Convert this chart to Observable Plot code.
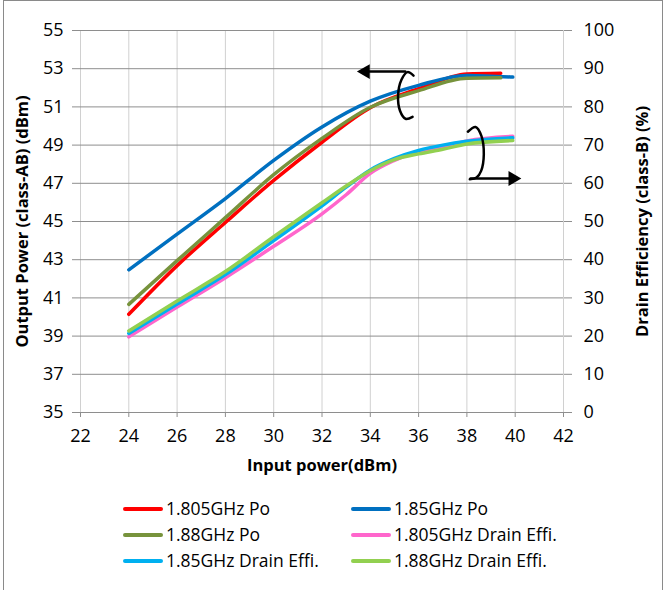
<!DOCTYPE html>
<html><head><meta charset="utf-8">
<script src="https://cdn.jsdelivr.net/npm/d3@7"></script>
<script src="https://cdn.jsdelivr.net/npm/@observablehq/plot@0.6"></script>
<style>
body{margin:0;background:#fff;}
#wrap{position:relative;width:666px;height:590px;overflow:hidden;font-family:"Open Sans",sans-serif;background:#fff}
#frame{position:absolute;left:3px;top:0;width:660px;height:600px;border:1px solid #8a8a8a;box-sizing:border-box;pointer-events:none}
#chart{position:absolute;left:0;top:0}
.leg{position:absolute;font-size:17.5px;color:#000;line-height:22px;white-space:nowrap}
.sw{display:inline-block;width:40px;height:4px;border-radius:2px;vertical-align:middle;margin-right:3px;position:relative;top:-1px}
</style></head><body>
<div id="wrap"><div id="chart"></div><div id="legend"></div><div id="frame"></div></div>
<script>
// Input power (dBm) for output-power series
const redPoX   = [24, 26, 28, 30, 32, 34, 36, 38, 39.4];
const redPoY   = [40.14, 42.69, 44.95, 47.15, 49.15, 50.96, 51.95, 52.72, 52.76];
const bluePoX  = [24, 26, 28, 30, 32, 34, 36, 38, 39.9];
const bluePoY  = [42.47, 44.34, 46.2, 48.2, 49.95, 51.3, 52.13, 52.65, 52.56];
const greenPoX = [24, 26, 28, 30, 32, 34, 36, 38, 39.4];
const greenPoY = [40.66, 42.95, 45.2, 47.45, 49.35, 50.98, 51.85, 52.5, 52.52];
// Drain efficiency (%)
const effX      = [24, 26, 28, 30, 32, 33, 34, 35, 36, 37, 38, 39.9];
const pinkEff   = [19.8, 27.6, 35.3, 43.5, 52.0, 57.0, 62.6, 66.0, 68.4, 69.5, 71.1, 72.3];
const cyanEff   = [20.7, 28.4, 36.1, 45.0, 54.1, 59.0, 63.5, 66.5, 68.6, 70.0, 71.0, 71.9];
const lgreenEff = [21.35, 29.2, 36.9, 46.0, 54.9, 59.3, 63.3, 66.2, 67.7, 68.9, 70.3, 71.2];

const seriesNames = ["1.805GHz Po","1.85GHz Po","1.88GHz Po","1.805GHz Drain Effi.","1.85GHz Drain Effi.","1.88GHz Drain Effi."];
const seriesColors = ["#ff0000","#0070c0","#77933c","#ff66cc","#00b0f0","#92d050"];

const xTicks = [22,24,26,28,30,32,34,36,38,40,42];
const leftTicks = [35,37,39,41,43,45,47,49,51,53,55];
const rightTickLabels = [0,10,20,30,40,50,60,70,80,90,100];

// annotation shapes (in chart data units: input dBm, output dBm)
const leftBracket = [[35.79,52.64],[35.54,52.82],[35.29,52.42],[35.15,51.58],[35.23,50.80],[35.46,50.38],[35.75,50.48]];
const leftArrow = [[35.45,52.85],[33.9,52.85]];
const leftHead = [[33.8,52.85]];
const rightBracket = [[38.04,49.70],[38.36,49.95],[38.60,49.48],[38.70,48.52],[38.59,47.65],[38.40,47.30],[38.12,47.21]];
const rightArrow = [[38.15,47.25],[39.8,47.25]];
const rightHead = [[39.9,47.25]];

const effToDbm = e => 35 + e / 5;
const rows = [];
const addPo = (xs, ys, i) => xs.forEach((x, j) => rows.push({s: seriesNames[i], x, y: ys[j]}));
const addEff = (ys, i) => effX.forEach((x, j) => rows.push({s: seriesNames[i], x, y: effToDbm(ys[j])}));
addPo(redPoX, redPoY, 0); addPo(bluePoX, bluePoY, 1); addPo(greenPoX, greenPoY, 2);
addEff(pinkEff, 3); addEff(cyanEff, 4); addEff(lgreenEff, 5);

const font = '"Open Sans", sans-serif';
const chart = Plot.plot({
  width: 666, height: 480,
  marginLeft: 80, marginRight: 103, marginTop: 30, marginBottom: 68,
  style: {fontFamily: font, fontSize: "18px", color: "#000", background: "#fff"},
  x: {domain: [22, 42]},
  y: {domain: [35, 55]},
  color: {domain: seriesNames, range: seriesColors},
  marks: [
    Plot.gridX({ticks: xTicks, stroke: "#d0d0d0", strokeOpacity: 1}),
    Plot.gridY({ticks: leftTicks, stroke: "#8e8e8e", strokeOpacity: 1}),
    Plot.axisX({ticks: xTicks, tickSize: 5, tickPadding: 12, stroke: "#8e8e8e", label: null, tickFormat: d => d}),
    Plot.axisY({anchor: "left", ticks: leftTicks, tickSize: 8, tickPadding: 9, stroke: "#8e8e8e", label: null, tickFormat: d => d}),
    Plot.axisY({anchor: "right", ticks: leftTicks, tickSize: 8, tickPadding: 12, stroke: "#8e8e8e", label: null,
      tickFormat: (d, i) => rightTickLabels[i]}),
    Plot.line(rows, {x: "x", y: "y", z: "s", stroke: "s", strokeWidth: 3.5, curve: "monotone-x"}),
    Plot.line(leftBracket, {x: d => d[0], y: d => d[1], stroke: "#000", strokeWidth: 2.5, curve: "catmull-rom"}),
    Plot.line(leftArrow, {x: d => d[0], y: d => d[1], stroke: "#000", strokeWidth: 2.5}),
    Plot.dot(leftHead, {x: d => d[0], y: d => d[1], symbol: "triangle", r: 5.5, fill: "#000", rotate: -90}),
    Plot.line(rightBracket, {x: d => d[0], y: d => d[1], stroke: "#000", strokeWidth: 2.5, curve: "catmull-rom"}),
    Plot.line(rightArrow, {x: d => d[0], y: d => d[1], stroke: "#000", strokeWidth: 2.5}),
    Plot.dot(rightHead, {x: d => d[0], y: d => d[1], symbol: "triangle", r: 5.5, fill: "#000", rotate: 90}),
    Plot.text(["Input power(dBm)"], {frameAnchor: "bottom", dy: 58, fontWeight: "bold", fontSize: 16.5}),
    Plot.text(["Output Power (class-AB) (dBm)"], {frameAnchor: "left", textAnchor: "middle", dx: -58, rotate: -90, fontWeight: "bold", fontSize: 16.5}),
    Plot.text(["Drain Efficiency (class-B) (%)"], {frameAnchor: "right", textAnchor: "middle", dx: 79, rotate: -90, fontWeight: "bold", fontSize: 16.5})
  ]
});
document.getElementById("chart").appendChild(chart);

const leg = document.getElementById("legend");
const pos = [[123,508],[351,508],[123,534],[351,534],[123,560],[351,560]];
seriesNames.forEach((n, i) => {
  const d = document.createElement("div");
  d.className = "leg";
  d.style.left = pos[i][0] + "px";
  d.style.top = (pos[i][1] - 11) + "px";
  d.innerHTML = `<span class="sw" style="background:${seriesColors[i]}"></span>${n}`;
  leg.appendChild(d);
});
</script>
</body></html>
